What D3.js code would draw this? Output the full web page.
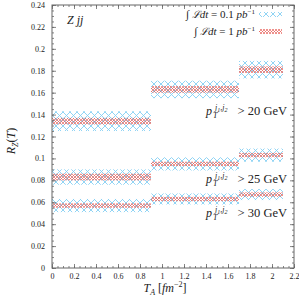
<!DOCTYPE html>
<html>
<head>
<meta charset="utf-8">
<script src="https://cdn.jsdelivr.net/npm/d3@7"></script>
<style>
  body { margin: 0; background: #fff; }
  svg text { font-family: "Liberation Serif", "DejaVu Serif", serif !important; fill: #222; }
</style>
</head>
<body>
<svg id="chart" width="299" height="297"></svg>
<script>
// bins in T_A
const binEdges = [0, 0.9, 1.7, 2.1];
const cuts = ["20", "25", "30"];
// central R_Z(T) per cut, per bin
const central20 = [0.134, 0.163, 0.181];
const central25 = [0.083, 0.095, 0.103];
const central30 = [0.057, 0.063, 0.067];
// half widths of the bands (0.1 pb^-1 and 1 pb^-1)
const errLow20 = [0.009, 0.008, 0.008];
const errHigh20 = [0.003, 0.003, 0.003];
const errLow25 = [0.007, 0.006, 0.006];
const errHigh25 = [0.003, 0.002, 0.002];
const errLow30 = [0.006, 0.005, 0.005];
const errHigh30 = [0.002, 0.002, 0.002];
const xTicks = [0, 0.2, 0.4, 0.6, 0.8, 1, 1.2, 1.4, 1.6, 1.8, 2, 2.2];
const yTicks = [0, 0.02, 0.04, 0.06, 0.08, 0.1, 0.12, 0.14, 0.16, 0.18, 0.2, 0.22, 0.24];

const svg = d3.select("#chart");
const x = d3.scaleLinear().domain([0, 2.2]).range([52, 294]);
const y = d3.scaleLinear().domain([0, 0.24]).range([268, 5]);

// hatch patterns
const defs = svg.append("defs");
function hatch(id, size, color, w) {
    const p = defs.append("pattern")
        .attr("id", id).attr("patternUnits", "userSpaceOnUse")
        .attr("width", size).attr("height", size);
    p.append("path")
        .attr("d", `M0,0L${size},${size}M0,${size}L${size},0`)
        .attr("stroke", color).attr("stroke-width", w).attr("fill", "none");
}
hatch("hatchBlue", 7, "#84cff3", 0.9);
hatch("hatchRed", 3, "#e8625a", 0.7);

const series = [
    { cut: cuts[0], c: central20, lo: errLow20, hi: errHigh20 },
    { cut: cuts[1], c: central25, lo: errLow25, hi: errHigh25 },
    { cut: cuts[2], c: central30, lo: errLow30, hi: errHigh30 }
];

const bands = [];
series.forEach(s => {
    s.c.forEach((v, i) => {
        bands.push({ x0: binEdges[i], x1: binEdges[i + 1], v: v, e: s.lo[i], fill: "url(#hatchBlue)" });
    });
});
series.forEach(s => {
    s.c.forEach((v, i) => {
        bands.push({ x0: binEdges[i], x1: binEdges[i + 1], v: v, e: s.hi[i], fill: "url(#hatchRed)" });
    });
});

svg.append("g").selectAll("rect")
    .data(bands)
    .join("rect")
    .attr("x", d => x(d.x0))
    .attr("width", d => x(d.x1) - x(d.x0))
    .attr("y", d => y(d.v + d.e))
    .attr("height", d => y(d.v - d.e) - y(d.v + d.e))
    .attr("fill", d => d.fill);

// axes with inward ticks on all sides
function styleAxis(g) {
    g.select(".domain").remove();
    g.attr("font-family", null);
    g.selectAll("line").attr("stroke", "#666").attr("stroke-width", 0.8);
    g.selectAll("text").attr("font-size", 8).attr("fill", "#333");
}
const fmt = d => String(+d.toFixed(2));
const xMinor = d3.range(0, 2.2001, 0.05);
const yMinor = d3.range(0, 0.2401, 0.005);

svg.append("g").attr("transform", "translate(0,268)")
    .call(d3.axisBottom(x).tickValues(xTicks).tickFormat(fmt).tickSize(-4).tickPadding(5))
    .call(styleAxis);
svg.append("g").attr("transform", "translate(0,268)")
    .call(d3.axisBottom(x).tickValues(xMinor).tickFormat("").tickSize(-2))
    .call(styleAxis);
svg.append("g").attr("transform", "translate(0,5)")
    .call(d3.axisTop(x).tickValues(xTicks).tickFormat("").tickSize(-4))
    .call(styleAxis);
svg.append("g").attr("transform", "translate(0,5)")
    .call(d3.axisTop(x).tickValues(xMinor).tickFormat("").tickSize(-2))
    .call(styleAxis);
svg.append("g").attr("transform", "translate(52,0)")
    .call(d3.axisLeft(y).tickValues(yTicks).tickFormat(fmt).tickSize(-4).tickPadding(7))
    .call(styleAxis);
svg.append("g").attr("transform", "translate(52,0)")
    .call(d3.axisLeft(y).tickValues(yMinor).tickFormat("").tickSize(-2))
    .call(styleAxis);
svg.append("g").attr("transform", "translate(294,0)")
    .call(d3.axisRight(y).tickValues(yTicks).tickFormat("").tickSize(-4))
    .call(styleAxis);
svg.append("g").attr("transform", "translate(294,0)")
    .call(d3.axisRight(y).tickValues(yMinor).tickFormat("").tickSize(-2))
    .call(styleAxis);

svg.append("rect")
    .attr("x", 52).attr("y", 5).attr("width", 242).attr("height", 263)
    .attr("fill", "none").attr("stroke", "#666").attr("stroke-width", 1);

// labels
svg.append("text").attr("x", 67).attr("y", 24)
    .attr("font-size", 12).attr("font-style", "italic").text("Z jj");

const yl = svg.append("text")
    .attr("transform", "translate(15,141) rotate(-90)")
    .attr("text-anchor", "middle").attr("font-size", 12);
yl.append("tspan").attr("font-style", "italic").text("R");
yl.append("tspan").attr("font-style", "italic").attr("font-size", 8).attr("dy", 3).text("Z");
yl.append("tspan").attr("dy", -3).text("(");
yl.append("tspan").attr("font-style", "italic").text("T");
yl.append("tspan").text(")");

const xl = svg.append("text").attr("x", 165).attr("y", 292)
    .attr("text-anchor", "middle").attr("font-size", 12);
xl.append("tspan").attr("font-style", "italic").text("T");
xl.append("tspan").attr("font-style", "italic").attr("font-size", 8).attr("dy", 3).text("A");
xl.append("tspan").attr("dy", -3).text(" [");
xl.append("tspan").attr("font-style", "italic").text("fm");
xl.append("tspan").attr("font-size", 8).attr("dy", -5).text("−2");
xl.append("tspan").attr("dy", 5).text("]");

// legend
const legend = [
    { lumi: "0.1", fill: "url(#hatchBlue)", y: 18 },
    { lumi: "1", fill: "url(#hatchRed)", y: 35 }
];
legend.forEach(l => {
    const t = svg.append("text").attr("x", 255).attr("y", l.y)
        .attr("text-anchor", "end").attr("font-size", 11);
    t.append("tspan").text("∫ ");
    t.append("tspan").attr("font-style", "italic").attr("font-size", 10).text("ℒ");
    t.append("tspan").attr("font-style", "italic").text("dt");
    t.append("tspan").text(" = " + l.lumi + " ");
    t.append("tspan").attr("font-style", "italic").text("pb");
    t.append("tspan").attr("font-size", 7).attr("dy", -4).text("−1");
    svg.append("rect").attr("x", 259).attr("y", l.y - 6).attr("width", 23).attr("height", 5)
        .attr("fill", l.fill);
});

// pT cut labels
const cutLabelY = [115, 183, 217];
cuts.forEach((c, i) => {
    const g = svg.append("g");
    const yy = cutLabelY[i];
    g.append("text").attr("x", 206).attr("y", yy).attr("font-size", 12)
        .attr("font-style", "italic").text("p");
    g.append("text").attr("x", 213).attr("y", yy + 3).attr("font-size", 8)
        .attr("font-style", "italic").text("T");
    const sup = g.append("text").attr("x", 215).attr("y", yy - 5).attr("font-size", 8)
        .attr("font-style", "italic");
    sup.append("tspan").text("j");
    sup.append("tspan").attr("font-size", 6).attr("dy", 1.5).text("1");
    sup.append("tspan").attr("dy", -1.5).text(",j");
    sup.append("tspan").attr("font-size", 6).attr("dy", 1.5).text("2");
    g.append("text").attr("x", 287).attr("y", yy).attr("text-anchor", "end")
        .attr("font-size", 12.5).text("> " + c + " GeV");
});
</script>
</body>
</html>
